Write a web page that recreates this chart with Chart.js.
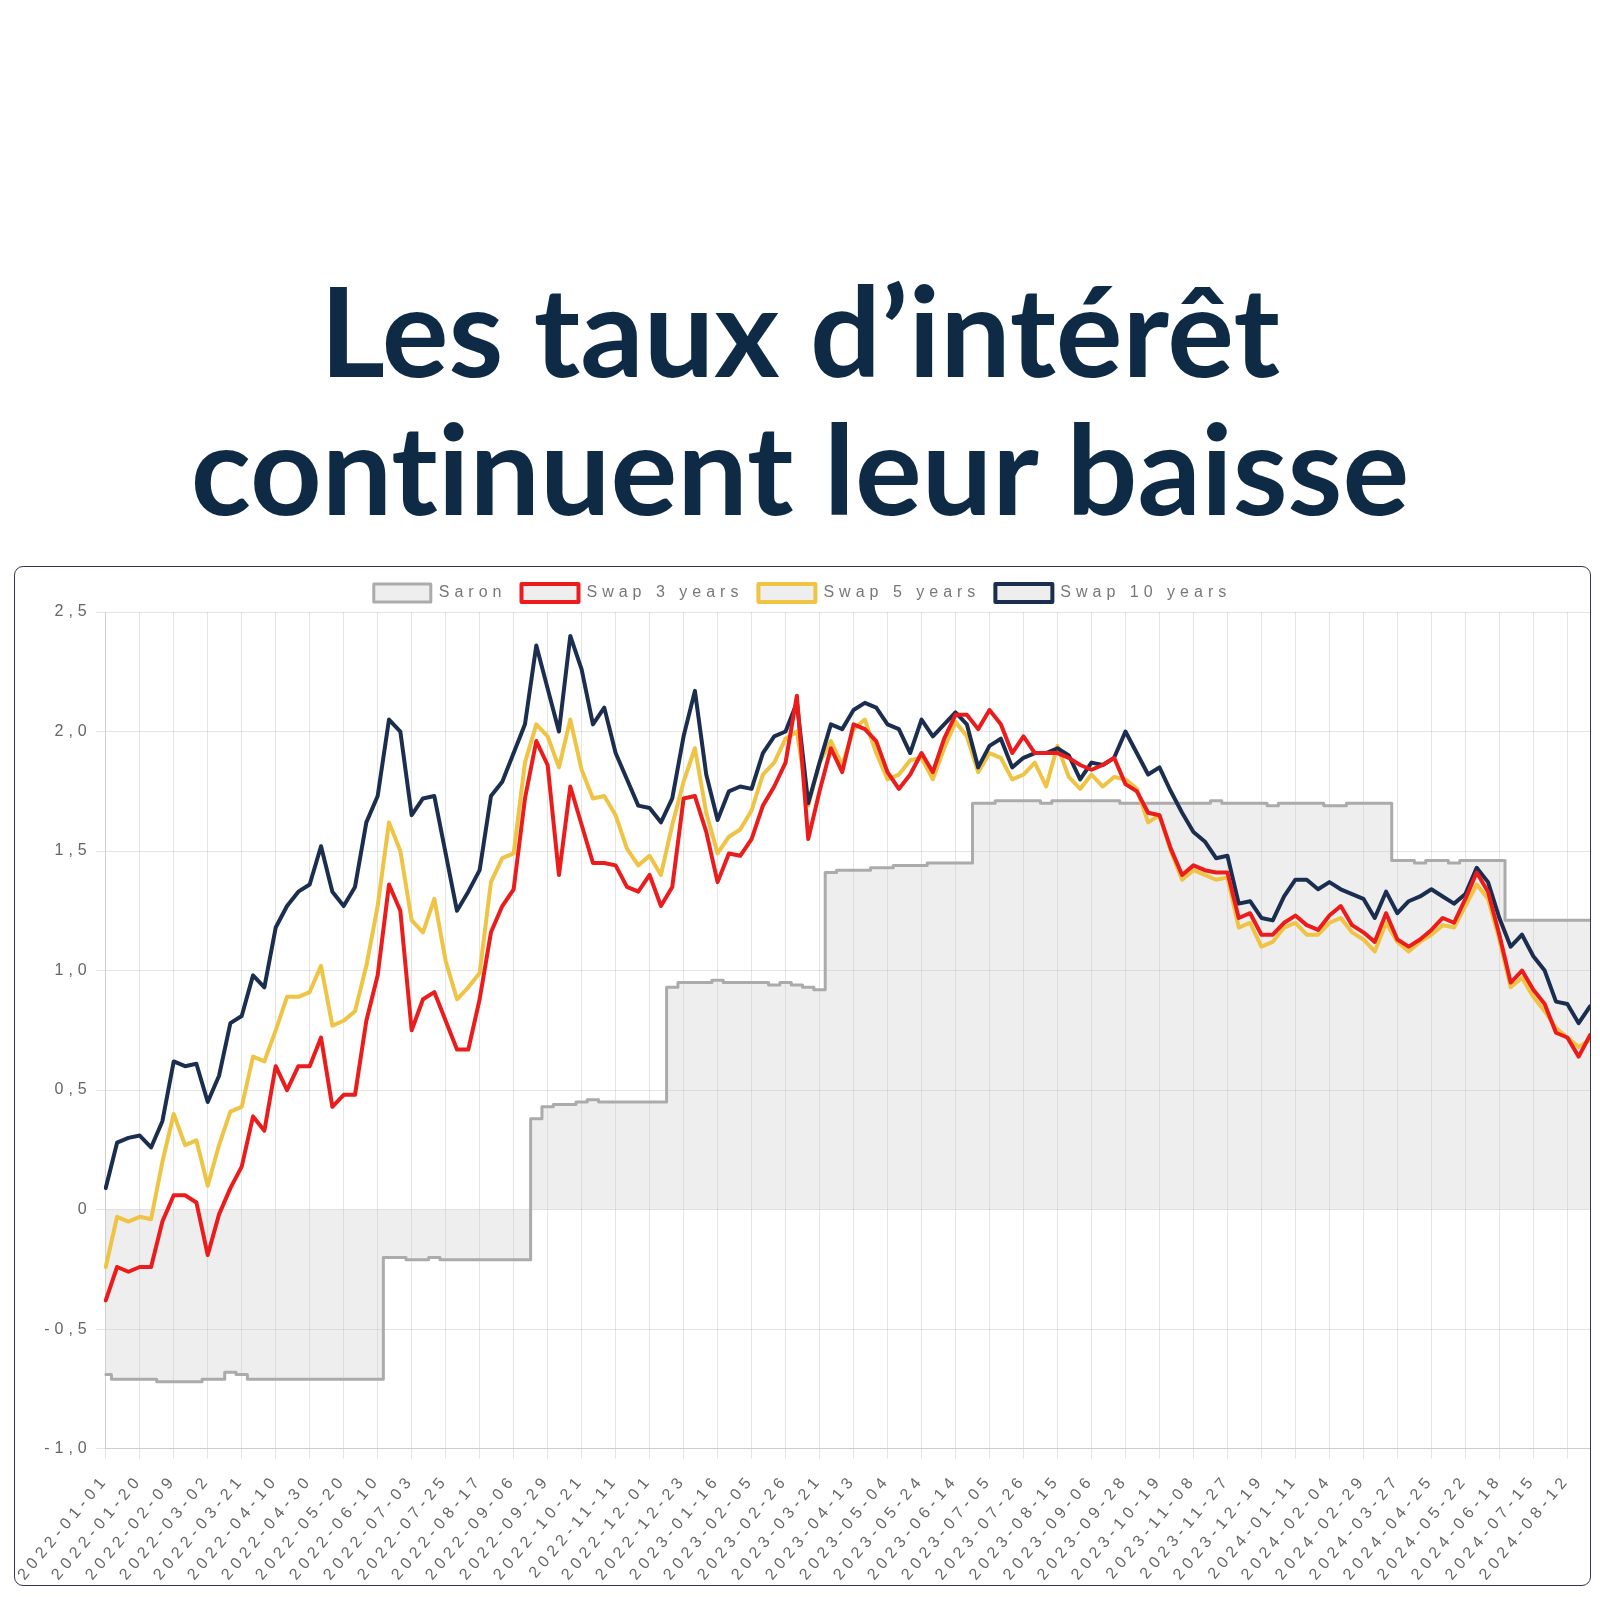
<!DOCTYPE html>
<html lang="fr">
<head>
<meta charset="utf-8">
<title>Les taux d’intérêt continuent leur baisse</title>
<script src="https://cdn.jsdelivr.net/npm/chart.js@4.4.1/dist/chart.umd.min.js"></script>
<style>
  html, body { margin: 0; padding: 0; background: #fff; }
  body { width: 1600px; height: 1600px; position: relative; overflow: hidden; }
  h1 {
    position: absolute; left: 0; top: 260px; width: 1600px; margin: 0;
    text-align: center; font-family: Lato, sans-serif; font-weight: 700;
    font-size: 125px; line-height: 138px; color: #0e2a45;
    font-variant-ligatures: none; font-feature-settings: "liga" 0;
  }
  .box {
    position: absolute; left: 14px; top: 566px; width: 1577px; height: 1020px;
    box-sizing: border-box; border: 1.5px solid #3c3449; border-radius: 9px;
  }
  .wrap { position: relative; width: 100%; height: 100%; }
</style>
</head>
<body>
<h1>Les taux d’intérêt<br>continuent leur baisse</h1>
<div class="box"><div class="wrap"><canvas id="myChart"></canvas></div></div>

<script>
/* Data: three points per labelled date */
const tickDates = [
  '2022-01-01', '2022-01-20', '2022-02-09', '2022-03-02', '2022-03-21', '2022-04-10',
  '2022-04-30', '2022-05-20', '2022-06-10', '2022-07-03', '2022-07-25', '2022-08-17',
  '2022-09-06', '2022-09-29', '2022-10-21', '2022-11-11', '2022-12-01', '2022-12-23',
  '2023-01-16', '2023-02-05', '2023-02-26', '2023-03-21', '2023-04-13', '2023-05-04',
  '2023-05-24', '2023-06-14', '2023-07-05', '2023-07-26', '2023-08-15', '2023-09-06',
  '2023-09-28', '2023-10-19', '2023-11-08', '2023-11-27', '2023-12-19', '2024-01-11',
  '2024-02-04', '2024-02-29', '2024-03-27', '2024-04-25', '2024-05-22', '2024-06-18',
  '2024-07-15', '2024-08-12'
];

const saron = [
  -0.69, -0.71, -0.71, -0.71, -0.71, -0.72, -0.72, -0.72, -0.72, -0.71, -0.71, -0.68, -0.69, -0.71, -0.71,
  -0.71, -0.71, -0.71, -0.71, -0.71, -0.71, -0.71, -0.71, -0.71, -0.71, -0.20, -0.20, -0.21, -0.21, -0.20,
  -0.21, -0.21, -0.21, -0.21, -0.21, -0.21, -0.21, -0.21, 0.38, 0.43, 0.44, 0.44, 0.45, 0.46, 0.45,
  0.45, 0.45, 0.45, 0.45, 0.45, 0.93, 0.95, 0.95, 0.95, 0.96, 0.95, 0.95, 0.95, 0.95, 0.94,
  0.95, 0.94, 0.93, 0.92, 1.41, 1.42, 1.42, 1.42, 1.43, 1.43, 1.44, 1.44, 1.44, 1.45, 1.45,
  1.45, 1.45, 1.70, 1.70, 1.71, 1.71, 1.71, 1.71, 1.70, 1.71, 1.71, 1.71, 1.71, 1.71, 1.71,
  1.70, 1.70, 1.70, 1.70, 1.70, 1.70, 1.70, 1.70, 1.71, 1.70, 1.70, 1.70, 1.70, 1.69, 1.70,
  1.70, 1.70, 1.70, 1.69, 1.69, 1.70, 1.70, 1.70, 1.70, 1.46, 1.46, 1.45, 1.46, 1.46, 1.45,
  1.46, 1.46, 1.46, 1.46, 1.21, 1.21, 1.21, 1.21, 1.21, 1.21, 1.21, 1.21
];

const swap3 = [
  -0.38, -0.24, -0.26, -0.24, -0.24, -0.05, 0.06, 0.06, 0.03, -0.19, -0.02, 0.09, 0.18, 0.39, 0.33,
  0.60, 0.50, 0.60, 0.60, 0.72, 0.43, 0.48, 0.48, 0.79, 0.98, 1.36, 1.25, 0.75, 0.88, 0.91,
  0.79, 0.67, 0.67, 0.88, 1.16, 1.27, 1.34, 1.72, 1.96, 1.86, 1.40, 1.77, 1.61, 1.45, 1.45,
  1.44, 1.35, 1.33, 1.40, 1.27, 1.35, 1.72, 1.73, 1.58, 1.37, 1.49, 1.48, 1.55, 1.69, 1.77,
  1.87, 2.15, 1.55, 1.75, 1.93, 1.83, 2.03, 2.01, 1.96, 1.83, 1.76, 1.82, 1.91, 1.83, 1.97,
  2.07, 2.07, 2.01, 2.09, 2.03, 1.91, 1.98, 1.91, 1.91, 1.91, 1.89, 1.86, 1.84, 1.86, 1.89,
  1.78, 1.75, 1.66, 1.65, 1.51, 1.40, 1.44, 1.42, 1.41, 1.41, 1.22, 1.24, 1.15, 1.15, 1.20,
  1.23, 1.19, 1.17, 1.23, 1.27, 1.19, 1.16, 1.12, 1.24, 1.13, 1.10, 1.13, 1.17, 1.22, 1.20,
  1.30, 1.41, 1.33, 1.15, 0.95, 1.00, 0.92, 0.86, 0.74, 0.72, 0.64, 0.73
];

const swap5 = [
  -0.24, -0.03, -0.05, -0.03, -0.04, 0.20, 0.40, 0.27, 0.29, 0.10, 0.27, 0.41, 0.43, 0.64, 0.62,
  0.75, 0.89, 0.89, 0.91, 1.02, 0.77, 0.79, 0.83, 1.02, 1.27, 1.62, 1.50, 1.21, 1.16, 1.30,
  1.04, 0.88, 0.93, 0.99, 1.37, 1.47, 1.49, 1.87, 2.03, 1.98, 1.85, 2.05, 1.84, 1.72, 1.73,
  1.65, 1.51, 1.44, 1.48, 1.40, 1.61, 1.79, 1.93, 1.66, 1.49, 1.56, 1.59, 1.67, 1.82, 1.87,
  1.97, 2.00, 1.69, 1.87, 1.96, 1.86, 2.01, 2.05, 1.91, 1.80, 1.82, 1.88, 1.89, 1.80, 1.93,
  2.04, 1.98, 1.83, 1.91, 1.89, 1.80, 1.82, 1.87, 1.77, 1.94, 1.81, 1.76, 1.82, 1.77, 1.81,
  1.80, 1.76, 1.62, 1.65, 1.50, 1.38, 1.42, 1.40, 1.38, 1.39, 1.18, 1.20, 1.10, 1.12, 1.18,
  1.20, 1.15, 1.15, 1.20, 1.22, 1.16, 1.13, 1.08, 1.20, 1.12, 1.08, 1.12, 1.15, 1.19, 1.18,
  1.27, 1.36, 1.30, 1.13, 0.93, 0.97, 0.89, 0.83, 0.76, 0.72, 0.68, 0.71
];

const swap10 = [
  0.09, 0.28, 0.30, 0.31, 0.26, 0.37, 0.62, 0.60, 0.61, 0.45, 0.56, 0.78, 0.81, 0.98, 0.93,
  1.18, 1.27, 1.33, 1.36, 1.52, 1.33, 1.27, 1.35, 1.62, 1.73, 2.05, 2.00, 1.65, 1.72, 1.73,
  1.49, 1.25, 1.33, 1.42, 1.73, 1.79, 1.91, 2.03, 2.36, 2.18, 2.00, 2.40, 2.26, 2.03, 2.10,
  1.91, 1.80, 1.69, 1.68, 1.62, 1.72, 1.98, 2.17, 1.82, 1.63, 1.75, 1.77, 1.76, 1.91, 1.98,
  2.00, 2.12, 1.70, 1.87, 2.03, 2.01, 2.09, 2.12, 2.10, 2.03, 2.01, 1.91, 2.05, 1.98, 2.03,
  2.08, 2.03, 1.85, 1.94, 1.97, 1.85, 1.89, 1.91, 1.91, 1.93, 1.90, 1.80, 1.87, 1.86, 1.89,
  2.00, 1.91, 1.82, 1.85, 1.75, 1.66, 1.58, 1.54, 1.47, 1.48, 1.28, 1.29, 1.22, 1.21, 1.31,
  1.38, 1.38, 1.34, 1.37, 1.34, 1.32, 1.30, 1.22, 1.33, 1.24, 1.29, 1.31, 1.34, 1.31, 1.28,
  1.32, 1.43, 1.37, 1.22, 1.10, 1.15, 1.06, 1.00, 0.87, 0.86, 0.78, 0.85
];

// one labelled category followed by two unlabelled ones
const categories = [];
tickDates.forEach(function (d) {
  categories.push(d, '', '');
});

const gridColor = 'rgba(0, 0, 0, 0.1)';
const boxFill = 'rgba(200, 200, 200, 0.3)';

/* canvas text is tracked out like the original */
const letterSpacing = {
  id: 'letterSpacing',
  beforeUpdate: function (chart) { chart.ctx.letterSpacing = '5px'; },
  beforeDraw: function (chart) { chart.ctx.letterSpacing = '5px'; }
};

Chart.defaults.font.family = "'Liberation Sans', Arial, sans-serif";
Chart.defaults.font.size = 16;
Chart.defaults.color = '#666';

var ctx = document.getElementById('myChart').getContext('2d');

var chart = new Chart(ctx, {
  type: 'line',
  data: {
    labels: categories,
    datasets: [{
      label: 'Saron',
      data: saron,
      borderColor: '#ababab',
      backgroundColor: boxFill,
      borderWidth: 3,
      fill: 'origin',
      stepped: 'middle',
      order: 4
    },
    {
      label: 'Swap 3 years',
      data: swap3,
      borderColor: '#ec1c1c',
      backgroundColor: boxFill,
      borderWidth: 4,
      fill: false,
      order: 1
    },
    {
      label: 'Swap 5 years',
      data: swap5,
      borderColor: '#efc343',
      backgroundColor: boxFill,
      borderWidth: 4,
      fill: false,
      order: 3
    },
    {
      label: 'Swap 10 years',
      data: swap10,
      borderColor: '#1c2e4f',
      backgroundColor: boxFill,
      borderWidth: 4,
      fill: false,
      order: 2
    }]
  },
  options: {
    responsive: true,
    maintainAspectRatio: false,
    animation: false,
    layout: { padding: { top: 2 } },
    elements: {
      point: { radius: 0 },
      line: { tension: 0, borderJoinStyle: 'round', borderCapStyle: 'round' }
    },
    plugins: {
      legend: {
        labels: {
          boxWidth: 57,
          boxHeight: 18,
          padding: 15,
          color: '#777',
          sort: function (a, b) { return a.datasetIndex - b.datasetIndex; }
        }
      },
      tooltip: { enabled: false }
    },
    scales: {
      x: {
        grid: {
          tickLength: 10,
          color: function (c) { return categories[c.index] ? gridColor : 'transparent'; }
        },
        ticks: {
          autoSkip: false,
          minRotation: 50,
          maxRotation: 50,
          padding: 12,
          color: '#666',
          callback: function (value, index) { return categories[index]; }
        },
        // tighter fit: data runs right up to the frame, labels nearly touch it
        afterFit: function (scale) {
          scale.paddingRight = 0;
          scale.paddingLeft -= 6;
          scale.height -= 11;
        }
      },
      y: {
        min: -1,
        max: 2.5,
        grid: { tickLength: 10, color: gridColor },
        ticks: {
          stepSize: 0.5,
          color: '#666',
          padding: 4,
          callback: function (v) { return v === 0 ? '0' : v.toFixed(1).replace('.', ','); }
        }
      }
    }
  },
  plugins: [letterSpacing]
});
</script>
</body>
</html>
